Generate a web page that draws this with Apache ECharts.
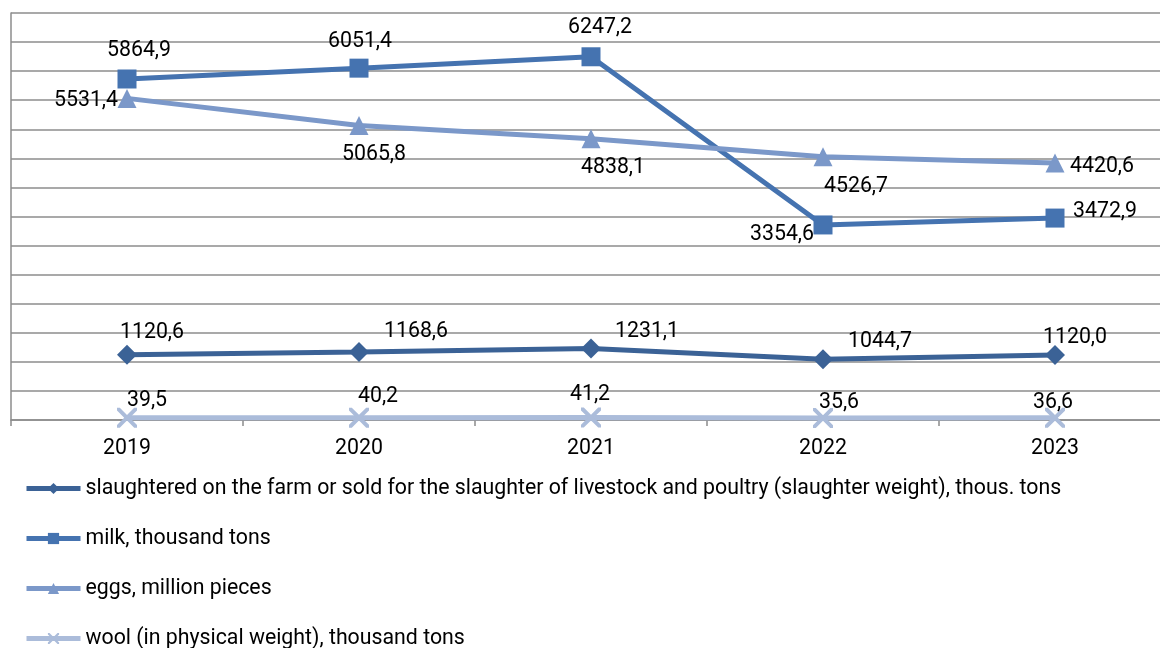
<!DOCTYPE html>
<html>
<head>
<meta charset="utf-8">
<script src="https://cdn.jsdelivr.net/npm/echarts@6/dist/echarts.min.js"></script>
<style>
  html, body { margin: 0; padding: 0; background: #fff; }
  #chart { width: 1160px; height: 648px; }
</style>
</head>
<body>
<div id="chart"></div>
<script>
// Data
const years = ['2019', '2020', '2021', '2022', '2023'];
const seriesNames = [
  'slaughtered on the farm or sold for the slaughter of livestock and poultry (slaughter weight), thous. tons',
  'milk, thousand tons',
  'eggs, million pieces',
  'wool (in physical weight), thousand tons'
];
const meat = [1120.6, 1168.6, 1231.1, 1044.7, 1120.0];
const milk = [5864.9, 6051.4, 6247.2, 3354.6, 3472.9];
const eggs = [5531.4, 5065.8, 4838.1, 4526.7, 4420.6];
const wool = [39.5, 40.2, 41.2, 35.6, 36.6];

// label placement (offset from the marker centre), one per point
const meatLabelOffsets = [[25, -22], [57, -20], [56, -17], [57, -18], [20, -17]];
const milkLabelOffsets = [[12, -28], [1, -26], [9, -29], [-41, 10], [50, -6]];
const eggsLabelOffsets = [[-41, 2], [15, 29], [22, 29], [33, 30], [47, 4]];
const woolLabelOffsets = [[20, -17], [19, -21], [-1, -23], [16, -15], [-2, -15]];

const colors = ['#3b6296', '#4573b0', '#7b98c9', '#abbcda'];
const crossSymbol = 'path://M0,0L1.4,0L5,3.6L8.6,0L10,0L10,1.4L6.4,5L10,8.6L10,10L8.6,10L5,6.4L1.4,10L0,10L0,8.6L3.6,5L0,1.4Z';
const FONT = 21.3;

const fmt = (v) => v.toFixed(1).replace('.', ',');

function makeData(values, offsets) {
  return values.map((v, i) => ({
    value: v,
    label: { offset: offsets[i] }
  }));
}

function makeSeries(idx, values, offsets, symbol, symbolSize) {
  return {
    name: seriesNames[idx],
    type: 'line',
    data: makeData(values, offsets),
    symbol: symbol,
    symbolSize: symbolSize,
    showAllSymbol: true,
    lineStyle: { width: 5, color: colors[idx] },
    itemStyle: { color: colors[idx] },
    label: {
      show: true,
      position: 'inside',
      color: '#000',
      fontFamily: 'Roboto',
      fontSize: FONT,
      formatter: (p) => fmt(p.value)
    },
    emphasis: { disabled: true },
    animation: false
  };
}

const chart = echarts.init(document.getElementById('chart'), null, { renderer: 'canvas' });

// plot area runs past the right edge of the picture, as in the original
const option = {
  backgroundColor: '#fff',
  color: colors,
  grid: { left: 11, width: 1160, top: 13, bottom: 228, containLabel: false, outerBoundsMode: 'none' },
  legend: {
    orient: 'vertical',
    left: 24,
    top: 478,
    height: 260,
    padding: 0,
    itemWidth: 54,
    itemHeight: 14,
    itemGap: 29,
    lineStyle: { width: 5 },
    textStyle: { color: '#000', fontFamily: 'Roboto', fontSize: FONT },
    data: seriesNames
  },
  xAxis: {
    type: 'category',
    data: years,
    boundaryGap: true,
    axisLine: { show: true, lineStyle: { color: '#8c8c8c', width: 1.5 } },
    axisTick: { show: true, alignWithLabel: false, length: 6, lineStyle: { color: '#8c8c8c', width: 1.5 } },
    axisLabel: { color: '#000', fontFamily: 'Roboto', fontSize: FONT, margin: 18 }
  },
  yAxis: {
    type: 'value',
    min: 0,
    max: 7000,
    interval: 500,
    axisLine: { show: true, lineStyle: { color: '#8c8c8c', width: 1.5 } },
    axisTick: { show: false },
    axisLabel: { show: false },
    splitLine: { show: true, lineStyle: { color: '#8c8c8c', width: 1.5 } }
  },
  series: [
    makeSeries(0, meat, meatLabelOffsets, 'diamond', 20),
    makeSeries(1, milk, milkLabelOffsets, 'rect', 19),
    makeSeries(2, eggs, eggsLabelOffsets, 'triangle', 19),
    makeSeries(3, wool, woolLabelOffsets, crossSymbol, 20)
  ]
};

chart.setOption(option);
</script>
</body>
</html>
